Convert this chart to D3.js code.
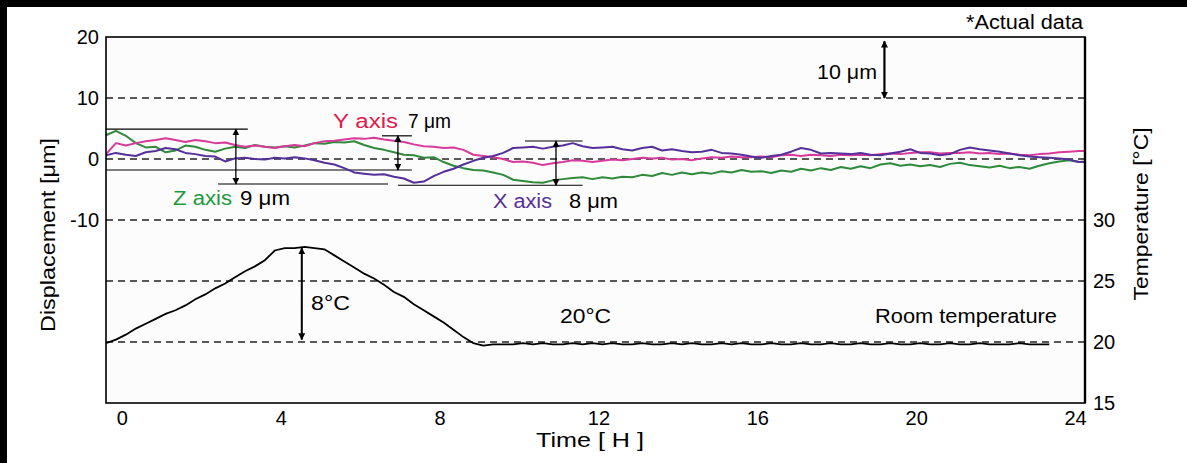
<!DOCTYPE html>
<html>
<head>
<meta charset="utf-8">
<script src="https://cdn.jsdelivr.net/npm/d3@7"></script>
<style>
body { margin: 0; background: #fff; }
text { font-family: "Liberation Sans", Arial, sans-serif; }
</style>
</head>
<body>
<svg id="chart" width="1187" height="463"></svg>
<script>
// sample times (hours), one reading every 15 minutes
var hours = d3.range(100).map(function(i){ return -0.4 + i * 0.25; });

// displacement readings [um]
var xAxisDisp = [0.6,1.0,0.7,0.5,1.1,1.3,1.8,1.6,1.0,0.8,
	0.5,0.4,-0.4,0.1,0.2,0.0,-0.1,0.2,0.1,0.3,
	0.1,-0.2,-0.6,-0.9,-1.5,-2.2,-2.4,-2.6,-2.5,-2.9,
	-3.2,-3.9,-3.7,-2.8,-2.1,-1.6,-0.9,-0.3,0.2,0.5,
	1.0,1.8,1.9,2.0,1.7,2.0,2.2,2.6,2.1,1.8,
	1.9,2.0,1.6,1.4,1.8,2.0,1.4,1.6,1.3,1.1,
	1.2,1.5,1.0,0.9,0.7,0.4,0.2,0.5,0.7,1.2,
	1.8,1.5,0.9,1.0,0.9,0.8,1.0,0.7,0.6,0.9,
	1.2,1.6,1.0,0.9,0.6,0.8,1.5,1.9,1.6,1.4,
	1.2,0.9,0.6,0.4,0.3,0.2,0.1,-0.1,-0.5,-0.4];

var yAxisDisp = [0.8,2.6,2.2,2.6,2.9,3.1,3.4,3.1,2.8,3.1,
	2.9,2.6,2.7,2.3,2.0,2.2,2.0,1.8,2.1,2.3,
	2.1,2.6,2.9,3.0,3.2,3.4,3.3,3.5,3.2,3.0,
	2.8,2.4,2.1,2.0,1.8,1.9,1.5,0.7,0.5,0.3,
	0.0,-0.5,-0.4,-0.6,-1.0,-0.7,-0.5,-0.2,-0.3,-0.5,
	-0.3,-0.1,-0.2,0.0,0.2,0.1,0.2,-0.1,0.0,-0.2,
	0.1,0.3,0.2,0.4,0.3,0.3,0.4,0.3,0.6,0.7,
	0.5,0.7,0.6,0.5,0.7,0.6,0.7,0.6,0.8,0.9,
	0.8,1.0,1.1,1.1,0.9,1.0,1.0,1.1,0.9,1.0,
	0.8,0.9,0.7,0.6,0.8,0.9,1.1,1.2,1.3,1.3];

var zAxisDisp = [3.9,4.6,3.8,2.6,1.9,2.0,1.1,1.4,2.2,2.0,
	1.5,1.2,1.7,2.0,1.8,2.3,2.0,1.9,2.1,1.9,
	2.2,2.6,2.5,2.8,2.7,2.9,2.3,1.8,1.5,1.1,
	0.7,0.6,0.2,0.3,-0.5,-1.1,-1.5,-1.8,-1.9,-2.2,
	-2.6,-3.4,-3.6,-3.8,-3.9,-3.5,-3.3,-3.1,-3.0,-3.3,
	-3.0,-3.2,-2.9,-3.0,-2.6,-2.8,-2.3,-2.6,-2.2,-2.5,
	-2.2,-2.4,-2.0,-2.2,-1.8,-2.1,-2.0,-2.3,-1.9,-2.1,
	-1.6,-1.9,-1.5,-1.8,-1.3,-1.6,-1.2,-1.5,-0.9,-0.7,
	-1.1,-0.9,-1.2,-1.0,-1.3,-0.8,-0.6,-1.0,-1.2,-1.4,
	-1.1,-1.5,-1.3,-1.6,-1.1,-0.7,-0.4,-0.2,-0.5,-0.4];

// room temperature [C], logging stops around 23.3 h
var roomTemp = [19.9,20.2,20.6,21.1,21.5,21.9,22.3,22.6,23.0,23.5,
	23.9,24.4,24.8,25.3,25.8,26.2,26.7,27.5,27.7,27.7,
	27.8,27.7,27.6,27.1,26.6,26.1,25.6,25.2,24.7,24.1,
	23.7,23.1,22.6,22.1,21.6,21.0,20.4,19.9,19.7,19.8,
	19.8,19.8,19.9,19.8,19.9,19.8,19.8,19.9,19.8,19.9,
	19.8,19.9,19.8,19.8,19.9,19.8,19.8,19.9,19.8,19.9,
	19.8,19.8,19.9,19.8,19.9,19.8,19.8,19.9,19.8,19.8,
	19.9,19.8,19.8,19.9,19.8,19.8,19.9,19.8,19.8,19.9,
	19.8,19.8,19.9,19.8,19.8,19.9,19.8,19.8,19.9,19.8,
	19.8,19.8,19.9,19.8,19.8,19.8];

var timeTicks = [0,4,8,12,16,20,24];
var dispTicks = [20,10,0,-10];
var tempTicks = [30,25,20,15];

// range brackets: [from h, to h, um]
var bracketLines = [[-0.4,3.17,4.9],[-0.4,7.3,-1.8],[2.42,6.7,-4.1],[6.55,7.3,3.8],[6.95,11.6,-4.3],[10.15,11.6,2.95]];
// arrows: [h, um top, um bottom]
var dispArrows = [[2.87,4.9,-4.1],[6.95,3.8,-1.8],[10.93,2.95,-4.3]];

var svg = d3.select("#chart");

var pLeft = 106, pTop = 37, pRight = 1085, pBottom = 403;

var x = d3.scaleLinear().domain([-0.4,24.25]).range([pLeft,pRight]);
var yDisp = d3.scaleLinear().domain([-40,20]).range([pBottom,pTop]);
var yTemp = d3.scaleLinear().domain([15,45]).range([pBottom,pTop]);

// scan border
svg.append("rect").attr("x",0).attr("y",0).attr("width",7).attr("height",463).attr("fill","#000");
svg.append("rect").attr("x",0).attr("y",0).attr("width",1187).attr("height",7).attr("fill","#000");

svg.append("rect")
	.attr("x",pLeft).attr("y",pTop)
	.attr("width",pRight-pLeft).attr("height",pBottom-pTop)
	.attr("fill","#fcfcfc");

var defs = svg.append("defs");
defs.append("clipPath").attr("id","plot")
	.append("rect").attr("x",pLeft).attr("y",pTop).attr("width",pRight-pLeft).attr("height",pBottom-pTop);
defs.append("marker")
	.attr("id","head")
	.attr("viewBox","0 0 10 10")
	.attr("refX",9).attr("refY",5)
	.attr("markerWidth",7).attr("markerHeight",7)
	.attr("markerUnits","userSpaceOnUse")
	.attr("orient","auto-start-reverse")
	.append("path").attr("d","M0,0 L10,5 L0,10 z").attr("fill","#000");

// dashed grid
var grid = svg.append("g").attr("stroke","#222").attr("stroke-width",1.3).attr("stroke-dasharray","7,5");
grid.selectAll("line.d")
	.data([10,0,-10])
	.enter().append("line")
	.attr("x1",pLeft).attr("x2",pRight)
	.attr("y1",function(d){ return yDisp(d); })
	.attr("y2",function(d){ return yDisp(d); });
grid.selectAll("line.t")
	.data([25,20])
	.enter().append("line")
	.attr("x1",pLeft).attr("x2",pRight)
	.attr("y1",function(d){ return yTemp(d); })
	.attr("y2",function(d){ return yTemp(d); });

// bracket lines
svg.append("g").selectAll("line")
	.data(bracketLines)
	.enter().append("line")
	.attr("x1",function(d){ return x(d[0]); })
	.attr("x2",function(d){ return x(d[1]); })
	.attr("y1",function(d){ return yDisp(d[2]); })
	.attr("y2",function(d){ return yDisp(d[2]); })
	.attr("stroke","#000").attr("stroke-width",1.2);

var plot = svg.append("g").attr("clip-path","url(#plot)");

var series = [
	{values: zAxisDisp, color: "#2f8a3c"},
	{values: yAxisDisp, color: "#d8399a"},
	{values: xAxisDisp, color: "#55309a"}
];

var dispLine = d3.line()
	.x(function(d,i){ return x(hours[i]); })
	.y(function(d){ return yDisp(d); });

plot.selectAll("path.disp")
	.data(series)
	.enter().append("path")
	.attr("class","disp")
	.attr("d",function(s){ return dispLine(s.values); })
	.attr("fill","none")
	.attr("stroke",function(s){ return s.color; })
	.attr("stroke-width",2)
	.attr("stroke-linejoin","round");

var tempLine = d3.line()
	.x(function(d,i){ return x(hours[i]); })
	.y(function(d){ return yTemp(d); });

plot.append("path")
	.attr("d",tempLine(roomTemp))
	.attr("fill","none")
	.attr("stroke","#000")
	.attr("stroke-width",1.8);

// range arrows
svg.append("g").selectAll("line")
	.data(dispArrows)
	.enter().append("line")
	.attr("x1",function(d){ return x(d[0]); })
	.attr("x2",function(d){ return x(d[0]); })
	.attr("y1",function(d){ return yDisp(d[1]); })
	.attr("y2",function(d){ return yDisp(d[2]); })
	.attr("stroke","#000").attr("stroke-width",1.3)
	.attr("marker-start","url(#head)").attr("marker-end","url(#head)");

// 10 um scale arrow
svg.append("line")
	.attr("x1",x(19.2)).attr("x2",x(19.2))
	.attr("y1",yDisp(19.3)).attr("y2",yDisp(10))
	.attr("stroke","#000").attr("stroke-width",2.2)
	.attr("marker-start","url(#head)").attr("marker-end","url(#head)");

// 8 C arrow
svg.append("line")
	.attr("x1",x(4.53)).attr("x2",x(4.53))
	.attr("y1",yTemp(27.7)).attr("y2",yTemp(20.2))
	.attr("stroke","#000").attr("stroke-width",2)
	.attr("marker-start","url(#head)").attr("marker-end","url(#head)");

// frame
svg.append("rect")
	.attr("x",pLeft).attr("y",pTop)
	.attr("width",pRight-pLeft).attr("height",pBottom-pTop)
	.attr("fill","none").attr("stroke","#000").attr("stroke-width",1.6);
svg.append("line").attr("x1",pRight).attr("x2",pRight).attr("y1",pTop).attr("y2",pBottom)
	.attr("stroke","#000").attr("stroke-width",2.4);

// axes
var axisL = svg.append("g").attr("transform","translate(" + pLeft + ",0)")
	.call(d3.axisLeft(yDisp).tickValues(dispTicks).tickSize(0).tickPadding(7).tickFormat(function(d){ return String(d); }));
var axisR = svg.append("g").attr("transform","translate(" + pRight + ",0)")
	.call(d3.axisRight(yTemp).tickValues(tempTicks).tickSize(0).tickPadding(8).tickFormat(function(d){ return String(d); }));
var axisB = svg.append("g").attr("transform","translate(0," + pBottom + ")")
	.call(d3.axisBottom(x).tickValues(timeTicks).tickSize(0).tickPadding(8).tickFormat(function(d){ return String(d); }));
[axisL,axisR,axisB].forEach(function(a){
	a.select(".domain").remove();
	a.selectAll("text").attr("font-size",20).attr("fill","#000").style("font-family","'Liberation Sans', Arial, sans-serif");
});

function label(tx, ty, str, len, opts){
	opts = opts || {};
	var t = svg.append("text")
		.attr("x",tx).attr("y",ty)
		.attr("font-size",opts.size || 20)
		.attr("fill",opts.color || "#000")
		.attr("text-anchor",opts.anchor || "start")
		.text(str);
	if (len) t.attr("textLength",len).attr("lengthAdjust","spacingAndGlyphs");
	return t;
}

label(1083,29,"*Actual data",117,{anchor:"end"});
label(877,79,"10 \u03bcm",60,{anchor:"end"});
label(333,128,"Y axis",65,{color:"#e0204c"});
label(408,128,"7 \u03bcm",43);
label(173,205,"Z axis",59,{color:"#1f9a3e"});
label(240,205,"9 \u03bcm",50);
label(493,208,"X axis",59,{color:"#55309a"});
label(569,208,"8 \u03bcm",49);
label(311,310,"8\u00b0C",39);
label(560,323,"20\u00b0C",51);
label(875,323,"Room temperature",182);
label(590,447,"Time [ H ]",108,{anchor:"middle"});

svg.append("text")
	.attr("transform","translate(55,235) rotate(-90)")
	.attr("text-anchor","middle").attr("font-size",20)
	.attr("textLength",194).attr("lengthAdjust","spacingAndGlyphs")
	.text("Displacement [\u03bcm]");
svg.append("text")
	.attr("transform","translate(1148,214) rotate(-90)")
	.attr("text-anchor","middle").attr("font-size",20)
	.attr("textLength",173).attr("lengthAdjust","spacingAndGlyphs")
	.text("Temperature [\u00b0C]");
</script>
</body>
</html>
